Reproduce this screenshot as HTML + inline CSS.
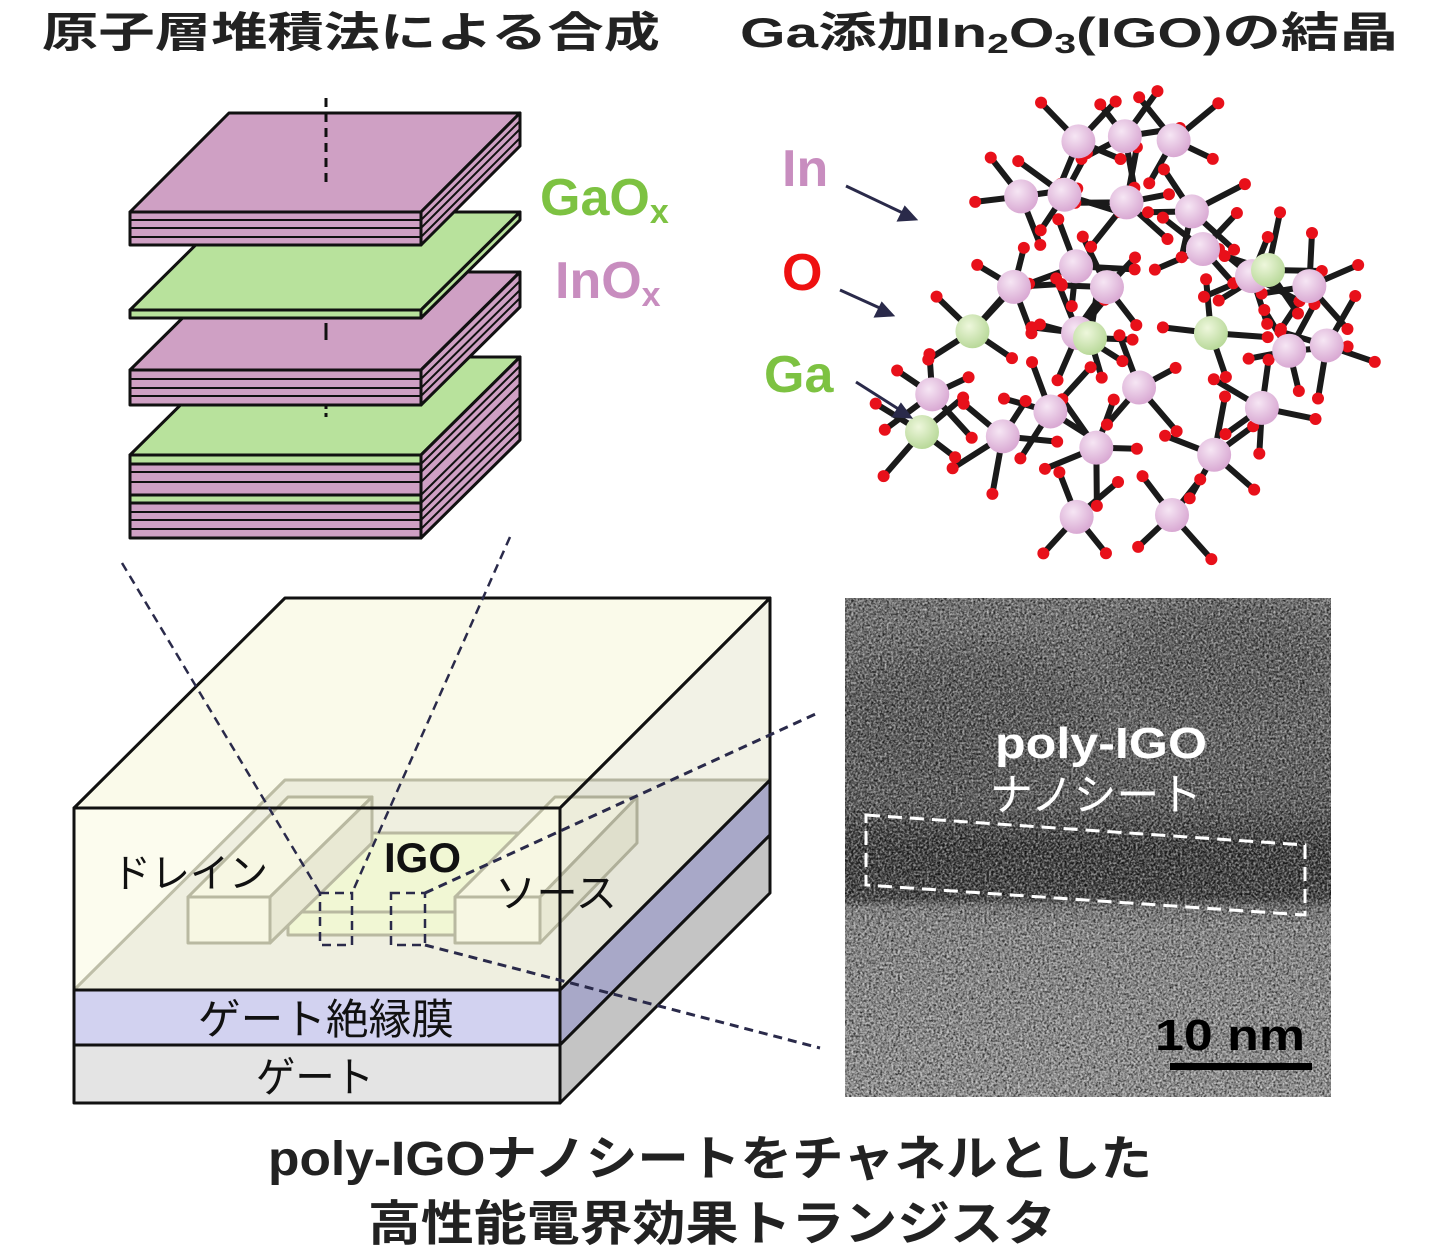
<!DOCTYPE html>
<html><head><meta charset="utf-8"><style>
body{margin:0;background:#fff;}
svg{display:block}
.t{font-family:"Liberation Sans","Noto Sans CJK JP",sans-serif;font-weight:bold;}
</style></head><body>
<svg id="s" width="1440" height="1251" viewBox="0 0 1440 1251" xmlns="http://www.w3.org/2000/svg">
<defs>
<radialGradient id="pk" cx="40%" cy="35%" r="65%"><stop offset="0" stop-color="#f6e6f4"/><stop offset="1" stop-color="#d9a9d3"/></radialGradient>
<radialGradient id="gn" cx="40%" cy="35%" r="65%"><stop offset="0" stop-color="#eef7dc"/><stop offset="1" stop-color="#b9d99a"/></radialGradient>
<filter id="nz" x="0" y="0" width="1" height="1"><feTurbulence type="fractalNoise" baseFrequency="0.45" numOctaves="2" seed="3"/><feColorMatrix type="matrix" values="0 0 0 0 0  0 0 0 0 0  0 0 0 0 0  1.6 0 0 0 -0.55"/></filter>
<filter id="nz2" x="0" y="0" width="1" height="1"><feTurbulence type="fractalNoise" baseFrequency="0.45" numOctaves="2" seed="9"/><feColorMatrix type="matrix" values="0 0 0 0 1  0 0 0 0 1  0 0 0 0 1  1.6 0 0 0 -0.6"/></filter>
<filter id="bl"><feGaussianBlur stdDeviation="18"/></filter>
</defs>

<!-- titles -->
<text class="t" x="42" y="47" font-size="42" fill="#222" textLength="618" lengthAdjust="spacingAndGlyphs">原子層堆積法による合成</text>
<text class="t" x="740" y="47" font-size="42" fill="#222" textLength="658" lengthAdjust="spacingAndGlyphs">Ga添加In<tspan font-size="28" dy="6">2</tspan><tspan dy="-6">O</tspan><tspan font-size="28" dy="6">3</tspan><tspan dy="-6">(IGO)の結晶</tspan></text>

<!-- layer stack -->
<g stroke="#111" stroke-width="3" stroke-linejoin="round">
 <polygon points="130,455 229,357 520,357 421,455" fill="#b8e29c"/>
 <polygon points="421,455 520,357 520,440 421,538" fill="#cfa0c4"/>
 <rect x="130" y="455" width="291" height="83" fill="#cfa0c4"/>
 <rect x="130" y="455" width="291" height="9" fill="#b8e29c"/>
 <rect x="130" y="495" width="291" height="8" fill="#b8e29c"/>
 <g stroke-width="2"><line x1="130" y1="472" x2="421" y2="472"/><line x1="130" y1="482" x2="421" y2="482"/><line x1="130" y1="512" x2="421" y2="512"/><line x1="130" y1="520" x2="421" y2="520"/><line x1="130" y1="529" x2="421" y2="529"/>
 <line x1="421" y1="464" x2="520" y2="366"/><line x1="421" y1="472" x2="520" y2="374"/><line x1="421" y1="482" x2="520" y2="384"/><line x1="421" y1="495" x2="520" y2="397"/><line x1="421" y1="503" x2="520" y2="405"/><line x1="421" y1="512" x2="520" y2="414"/><line x1="421" y1="520" x2="520" y2="422"/><line x1="421" y1="529" x2="520" y2="431"/></g>
 <polygon points="130,370 229,272 520,272 421,370" fill="#cfa0c4"/>
 <polygon points="421,370 520,272 520,307 421,405" fill="#cfa0c4"/>
 <rect x="130" y="370" width="291" height="35" fill="#cfa0c4"/>
 <g stroke-width="2"><line x1="130" y1="379" x2="421" y2="379"/><line x1="130" y1="388" x2="421" y2="388"/><line x1="130" y1="396" x2="421" y2="396"/>
 <line x1="421" y1="379" x2="520" y2="281"/><line x1="421" y1="388" x2="520" y2="290"/><line x1="421" y1="396" x2="520" y2="298"/></g>
 <polygon points="130,310 229,212 520,212 421,310" fill="#b8e29c"/>
 <polygon points="421,310 520,212 520,220 421,318" fill="#b8e29c"/>
 <rect x="130" y="310" width="291" height="8" fill="#b8e29c"/>
 <polygon points="130,212 229,113 520,113 421,212" fill="#cfa0c4"/>
 <polygon points="421,212 520,113 520,146 421,245" fill="#cfa0c4"/>
 <rect x="130" y="212" width="291" height="33" fill="#cfa0c4"/>
 <g stroke-width="2"><line x1="130" y1="220" x2="421" y2="220"/><line x1="130" y1="228" x2="421" y2="228"/><line x1="130" y1="237" x2="421" y2="237"/>
 <line x1="421" y1="220" x2="520" y2="121"/><line x1="421" y1="228" x2="520" y2="129"/><line x1="421" y1="237" x2="520" y2="138"/></g>
</g>
<line x1="326" y1="98" x2="326" y2="185" stroke="#111" stroke-width="3" stroke-dasharray="9,6"/>
<line x1="326" y1="323" x2="326" y2="340" stroke="#111" stroke-width="3"/>
<line x1="326" y1="405" x2="326" y2="418" stroke="#111" stroke-width="3" stroke-dasharray="4,4"/>

<text class="t" x="540" y="215" font-size="52" fill="#7dc242">GaO<tspan font-size="34" dy="8">x</tspan></text>
<text class="t" x="555" y="298" font-size="52" fill="#c88dbf">InO<tspan font-size="34" dy="8">x</tspan></text>

<!-- crystal -->
<g id="cry"></g>
<text class="t" x="782" y="186" font-size="52" fill="#c88dbf">In</text>
<text class="t" x="782" y="290" font-size="52" fill="#ee1111">O</text>
<text class="t" x="764" y="392" font-size="52" fill="#7dc242">Ga</text>
<g stroke="#2a2a4a" stroke-width="3" fill="#2a2a4a">
 <line x1="846" y1="186" x2="905" y2="214"/><polygon points="915,219 899,220 905,208"/>
 <line x1="840" y1="290" x2="882" y2="309"/><polygon points="892,315 876,316 882,304"/>
 <line x1="856" y1="382" x2="900" y2="410"/><polygon points="910,417 894,416 901,405"/>
</g>

<!-- device -->
<g stroke-linejoin="round">
 <polygon points="74,990 285,780 770,780 560,990" fill="#e3e3e1" stroke="#777764" stroke-width="3"/>
 <rect x="74" y="990" width="486" height="55" fill="#d2d2f0" stroke="#111" stroke-width="3"/>
 <rect x="74" y="1045" width="486" height="58" fill="#e4e4e4" stroke="#111" stroke-width="3"/>
 <polygon points="560,990 770,780 770,835 560,1045" fill="#a8a8c8" stroke="#111" stroke-width="3"/>
 <polygon points="560,1045 770,835 770,893 560,1103" fill="#c4c4c4" stroke="#111" stroke-width="3"/>
 <polygon points="288,912 372,833 540,833 455,912" fill="#e6f4c6" stroke="#6b6b55" stroke-width="3"/>
 <rect x="288" y="912" width="167" height="23" fill="#e6f4c6" stroke="#6b6b55" stroke-width="3"/>
 <polygon points="188,897 288,797 372,797 270,897" fill="#f3f3e6" stroke="#6b6b55" stroke-width="3"/>
 <polygon points="270,897 372,797 372,843 270,943" fill="#d6d6c6" stroke="#6b6b55" stroke-width="3"/>
 <rect x="188" y="897" width="82" height="46" fill="#f3f3e6" stroke="#6b6b55" stroke-width="3"/>
 <polygon points="455,897 555,797 637,797 540,897" fill="#f3f3e6" stroke="#6b6b55" stroke-width="3"/>
 <polygon points="540,897 637,797 637,843 540,943" fill="#d6d6c6" stroke="#6b6b55" stroke-width="3"/>
 <rect x="455" y="897" width="85" height="46" fill="#f3f3e6" stroke="#6b6b55" stroke-width="3"/>
 <polygon points="74,808 285,598 770,598 560,808" fill="#f6f6d8" fill-opacity="0.55" stroke="#111" stroke-width="3"/>
 <polygon points="560,808 770,598 770,780 560,990" fill="#e8e8d2" fill-opacity="0.55" stroke="#111" stroke-width="3"/>
 <polygon points="74,808 560,808 560,990 74,990" fill="#fafae0" fill-opacity="0.55" stroke="#111" stroke-width="3"/>
 <line x1="74" y1="990" x2="560" y2="990" stroke="#111" stroke-width="3"/>
</g>
<g fill="#111" font-size="40" font-family="Liberation Sans,Noto Sans CJK JP,sans-serif">
 <text x="112" y="887" textLength="156" lengthAdjust="spacingAndGlyphs">ドレイン</text>
 <text x="495" y="907" textLength="122" lengthAdjust="spacingAndGlyphs">ソース</text>
</g>
<text class="t" x="384" y="872" font-size="42" fill="#111">IGO</text>
<text x="198" y="1034" font-size="42" fill="#111" font-family="Liberation Sans,Noto Sans CJK JP,sans-serif" textLength="256" lengthAdjust="spacingAndGlyphs">ゲート絶縁膜</text>
<text x="256" y="1092" font-size="42" fill="#111" font-family="Liberation Sans,Noto Sans CJK JP,sans-serif" textLength="118" lengthAdjust="spacingAndGlyphs">ゲート</text>
<g stroke="#2a2a4a" stroke-width="2.5" fill="none" stroke-dasharray="9,6">
 <rect x="320" y="893" width="32" height="52"/>
 <rect x="391" y="893" width="34" height="52"/>
 <line x1="122" y1="563" x2="320" y2="893"/>
 <line x1="510" y1="537" x2="352" y2="893"/>
 <line x1="425" y1="893" x2="820" y2="712" stroke-width="3"/>
 <line x1="425" y1="945" x2="820" y2="1048" stroke-width="3"/>
</g>

<!-- TEM -->
<svg x="845" y="598" width="486" height="499" overflow="hidden">
<linearGradient id="tg" x1="0" y1="0" x2="0" y2="1">
 <stop offset="0" stop-color="#727272"/><stop offset="0.2" stop-color="#666"/><stop offset="0.4" stop-color="#575757"/>
 <stop offset="0.45" stop-color="#4a4a4a"/><stop offset="0.5" stop-color="#333"/><stop offset="0.6" stop-color="#3a3a3a"/>
 <stop offset="0.62" stop-color="#8a8a8a"/><stop offset="1" stop-color="#9a9a9a"/>
</linearGradient>
<rect width="486" height="499" fill="url(#tg)"/>
<ellipse cx="120" cy="120" rx="130" ry="70" fill="#4a4a4a" opacity="0.6" filter="url(#bl)"/>
<ellipse cx="380" cy="60" rx="110" ry="60" fill="#4e4e4e" opacity="0.6" filter="url(#bl)"/>
<polygon points="0,225 486,240 486,315 0,290" fill="#2e2e2e" opacity="0.55" filter="url(#bl)"/>
<rect width="486" height="499" filter="url(#nz)"/>
<rect width="486" height="499" filter="url(#nz2)" opacity="0.8"/>
</svg>
<text class="t" x="995" y="758" font-size="44" fill="#fff" textLength="212" lengthAdjust="spacingAndGlyphs">poly-IGO</text>
<text x="990" y="810" font-size="44" fill="#fff" font-family="Liberation Sans,Noto Sans CJK JP,sans-serif" textLength="212" lengthAdjust="spacingAndGlyphs">ナノシート</text>
<polygon points="866,815 1305,845 1305,915 866,885" fill="none" stroke="#fff" stroke-width="3" stroke-dasharray="14,8"/>
<text class="t" x="1155" y="1050" font-size="44" fill="#000" textLength="150" lengthAdjust="spacingAndGlyphs">10 nm</text>
<rect x="1170" y="1063" width="142" height="7" fill="#000"/>

<!-- bottom -->
<text class="t" x="268" y="1175" font-size="48" fill="#222" textLength="884" lengthAdjust="spacingAndGlyphs">poly-IGOナノシートをチャネルとした</text>
<text class="t" x="368" y="1240" font-size="48" fill="#222" textLength="688" lengthAdjust="spacingAndGlyphs">高性能電界効果トランジスタ</text>
</svg>
<script>
(function(){
var g=document.getElementById('cry'),ns='http://www.w3.org/2000/svg',s=11;
function r(){s=(s*16807)%2147483647;return (s-1)/2147483646;}
function el(n,a){var e=document.createElementNS(ns,n);for(var k in a)e.setAttribute(k,a[k]);return e;}
var metals=[];
for(var gy=0;gy<7;gy++)for(var gx=0;gx<7;gx++){
 var x=940+gx*62+(r()-0.5)*40+(gy%2)*20,y=145+gy*62+(r()-0.5)*40;
 if(Math.abs(x-1110)/240+Math.abs(y-330)/250>1.05)continue;
 if(r()<0.2)continue;
 metals.push([x,y,r()<0.12]);
}
metals.push([922,432,true]);metals.push([1268,270,true]);metals.push([1090,338,true]);metals.push([1172,515,false]);
var bl=document.createDocumentFragment(),at=document.createDocumentFragment();
metals.forEach(function(m){
 var n=4+Math.floor(r()*2);
 var a0=r()*6.283;
 for(var j=0;j<n;j++){
  var a=a0+j*6.283/n+(r()-0.5)*0.6,L=40+r()*20,ox_=m[0]+Math.cos(a)*L,oy=m[1]+Math.sin(a)*L;
  bl.appendChild(el('line',{x1:m[0],y1:m[1],x2:ox_,y2:oy,stroke:'#1a1a1a','stroke-width':6,'stroke-linecap':'round'}));
  at.appendChild(el('circle',{cx:ox_,cy:oy,r:6,fill:'#e8101a'}));
 }
});
g.appendChild(bl);
metals.forEach(function(m){at.appendChild(el('circle',{cx:m[0],cy:m[1],r:17,fill:m[2]?'url(#gn)':'url(#pk)'}));});
g.appendChild(at);
})();
</script>
</body></html>
